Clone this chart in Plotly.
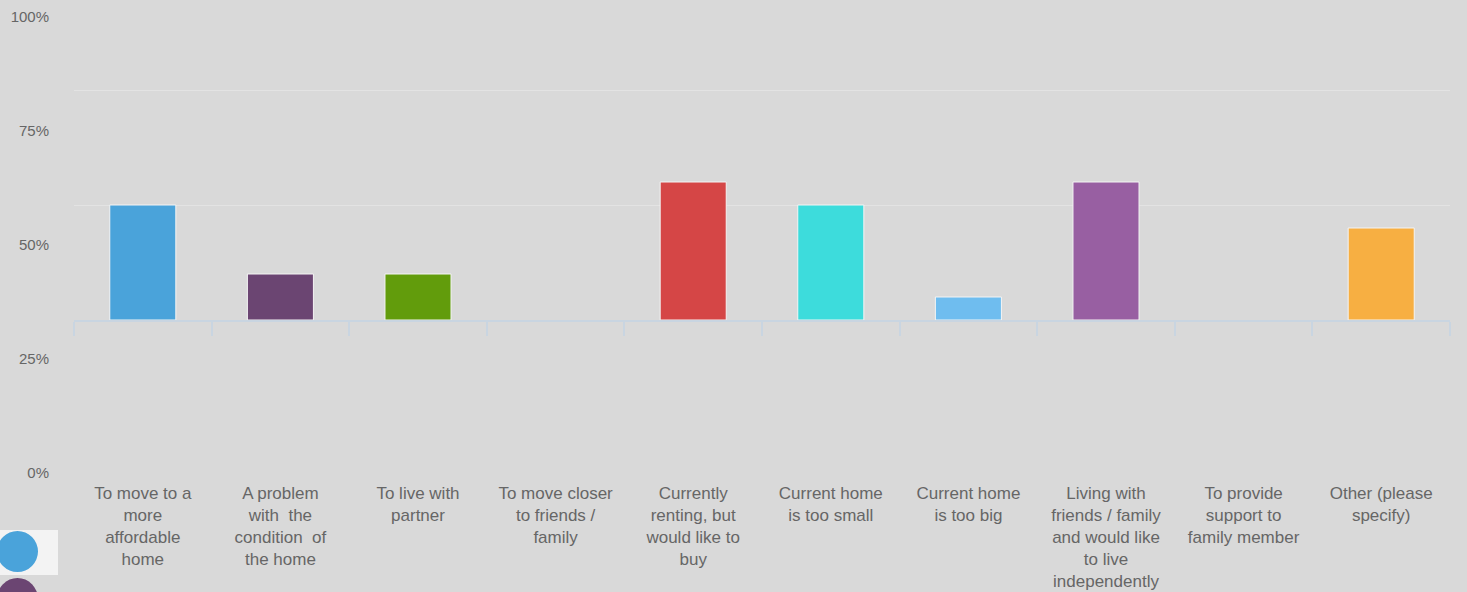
import plotly.graph_objects as go

# ---- data ----
categories = [
    "To move to a more affordable home",
    "A problem with the condition of the home",
    "To live with partner",
    "To move closer to friends / family",
    "Currently renting, but would like to buy",
    "Current home is too small",
    "Current home is too big",
    "Living with friends / family and would like to live independently",
    "To provide support to family member",
    "Other (please specify)",
]
tick_labels = [
    "To move to a<br>more<br>affordable<br>home",
    "A problem<br>with  the<br>condition  of<br>the home",
    "To live with<br>partner",
    "To move closer<br>to friends /<br>family",
    "Currently<br>renting, but<br>would like to<br>buy",
    "Current home<br>is too small",
    "Current home<br>is too big",
    "Living with<br>friends / family<br>and would like<br>to live<br>independently",
    "To provide<br>support to<br>family member",
    "Other (please<br>specify)",
]
values = [25, 10, 10, 0, 30, 25, 5, 30, 0, 20]
bar_colors = ["#4aa3da", "#6b4572", "#629c0c", "#9b9b9b", "#d54646",
              "#3ddcdc", "#6fbdef", "#985fa2", "#9b9b9b", "#f7af42"]
y_ticks = [0, 25, 50, 75, 100]
y_ticktext = ["0%", "25%", "50%", "75%", "100%"]
inner_grid = [25, 50]

W, H = 1467, 592
BG = "#d9d9d9"
TXT = "#666666"
AX = "#c9d5e1"

px_top, px_bot, px_base = 17, 473, 320
x_left, x_right = 74, 1450
scale = (px_base - 205) / 25.0  # pixels per inner unit

fig = go.Figure()
fig.add_trace(go.Bar(
    x=categories, y=values, xaxis="x", yaxis="y",
    marker=dict(color=bar_colors,
                line=dict(color="#f4f4f4", width=[1 if v > 0 else 0 for v in values])),
    width=0.48, showlegend=False, hoverinfo="x+y",
))
# invisible trace carrying the percentage axis and the category label axis
fig.add_trace(go.Scatter(
    x=list(range(len(categories))), y=[None] * len(categories),
    xaxis="x2", yaxis="y2", mode="markers", showlegend=False, hoverinfo="skip",
))

fig.update_layout(
    width=W, height=H,
    margin=dict(l=0, r=0, t=0, b=0, pad=0, autoexpand=False),
    paper_bgcolor=BG, plot_bgcolor="rgba(0,0,0,0)",
    font=dict(family="Liberation Sans, Arial, sans-serif", color=TXT),
    xaxis=dict(
        type="category", domain=[x_left / W, x_right / W], anchor="y",
        showticklabels=False, showline=True, linecolor=AX, linewidth=2,
        ticks="outside", tickson="boundaries", ticklen=14, tickwidth=2,
        tickcolor=AX, showgrid=False, zeroline=False, automargin=False,
    ),
    yaxis=dict(
        domain=[(H - px_base) / H, (H - px_top) / H],
        range=[0, (px_base - px_top) / scale], tickmode="array",
        tickvals=inner_grid, showticklabels=False, showgrid=True,
        gridcolor="#e3e3e3", gridwidth=1.2, zeroline=False, showline=False,
        anchor="x", automargin=False,
    ),
    xaxis2=dict(
        domain=[x_left / W, x_right / W], anchor="y2", type="linear",
        range=[-0.5, 9.5], tickmode="array",
        tickvals=list(range(len(categories))), ticktext=tick_labels,
        showline=False, showgrid=False, zeroline=False, ticks="",
        tickfont=dict(size=17, color=TXT), ticklabelstandoff=8,
        automargin=False,
    ),
    yaxis2=dict(
        domain=[(H - px_bot) / H, (H - px_top) / H], range=[0, 100],
        anchor="x2", tickmode="array", tickvals=y_ticks, ticktext=y_ticktext,
        showgrid=False, zeroline=False, showline=False, ticks="",
        tickfont=dict(size=15, color=TXT), ticklabelstandoff=24,
        automargin=False,
    ),
)

# cut-off legend swatches in the bottom-left corner
fig.add_shape(type="rect", xref="paper", yref="paper",
              x0=0, x1=58 / W, y0=(H - 575) / H, y1=(H - 530) / H,
              fillcolor="#f3f3f3", line=dict(width=0), layer="above")
fig.add_shape(type="circle", xref="paper", yref="paper",
              x0=-3 / W, x1=38 / W, y0=(H - 572) / H, y1=(H - 531) / H,
              fillcolor="#4aa3da", line=dict(width=0), layer="above")
fig.add_shape(type="circle", xref="paper", yref="paper",
              x0=-3 / W, x1=38 / W, y0=(H - 620) / H, y1=(H - 578) / H,
              fillcolor="#6b4572", line=dict(width=0), layer="above")

fig.write_html(
    "out.html",
    config={"displayModeBar": False},
    post_script="document.body.style.margin='0';document.body.style.overflow='hidden';",
)
